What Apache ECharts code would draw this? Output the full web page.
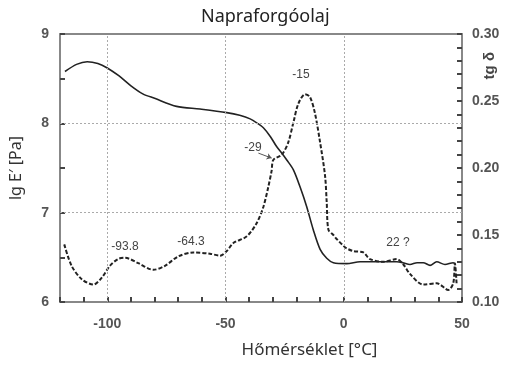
<!DOCTYPE html>
<html>
<head>
<meta charset="utf-8">
<script src="https://cdn.jsdelivr.net/npm/echarts@6/dist/echarts.min.js"></script>
<style>html,body{margin:0;padding:0;background:#fff}#c{width:508px;height:365px}</style>
</head>
<body>
<div id="c"></div>
<script>
// E' (lg E', left axis) vs temperature
const tempE = [-117.9,-113,-108.5,-104,-100,-95,-90,-85,-80,-70.7,-60.8,-49.5,-44,-39.6,-36.5,-34,-31,-28.4,-26,-24.1,-21.3,-18.5,-15.7,-12.9,-10,-7.2,-4.4,1.2,6.9,14,22.4,25,28,31,33.6,36.5,39.3,42.8,46.3,47];
const lgE   = [8.58,8.66,8.69,8.67,8.62,8.53,8.42,8.33,8.28,8.19,8.16,8.12,8.09,8.05,8.00,7.95,7.85,7.74,7.66,7.59,7.48,7.29,7.07,6.81,6.59,6.49,6.44,6.43,6.45,6.45,6.45,6.44,6.42,6.44,6.44,6.41,6.45,6.42,6.44,6.42];
// tg delta (right axis) vs temperature
const tempD = [-118.2,-115.1,-110.8,-105.9,-102.4,-98.9,-95.5,-92.5,-86.9,-80.5,-75.6,-70,-63.6,-56.6,-52.3,-49.5,-46.7,-41,-36.8,-34,-31.9,-30.5,-29.8,-26.2,-23.5,-21.3,-19.2,-16.4,-14.3,-12.2,-10,-7.9,-7.2,-6.5,-4.4,-3,-0.2,1.2,4,8.3,11.1,16.7,22.4,25.2,28,33.6,39.3,44.2,46.3,47,47.7];
const tgD   = [0.143,0.127,0.117,0.113,0.118,0.127,0.132,0.133,0.129,0.124,0.127,0.134,0.137,0.136,0.1346,0.138,0.144,0.149,0.159,0.171,0.186,0.198,0.206,0.210,0.219,0.234,0.248,0.255,0.253,0.241,0.219,0.194,0.174,0.154,0.150,0.147,0.142,0.140,0.138,0.137,0.132,0.130,0.132,0.128,0.121,0.113,0.114,0.109,0.114,0.129,0.114];
// peak annotations: text, temperature, tg delta position
const annText = ['-93.8','-64.3','-15','-29','22 ?'];
const annTemp = [-92.5,-64.6,-18.1,-38.4,22.9];
const annTg   = [0.1416,0.1453,0.2695,0.2151,0.1443];
// arrow for -29
const arrowFrom = [-36.1,0.2111];
const arrowTo = [-30.5,0.2074];
// gridlines
const gridX = [-100,-50,0];
const gridY = [7,8];
const xLabels = [-100,-50,0,50];
const yLeftLabels = [6,7,8,9];
const yRightLabels = [0.10,0.15,0.20,0.25,0.30];

const chart = echarts.init(document.getElementById('c'));
const labelFont = () => ({color:'#555', fontSize:14, fontWeight:'bold', fontFamily:'Liberation Sans, Arial'});
const tick = () => ({show:true, inside:true, length:5, lineStyle:{color:'#444', width:2}});
const axisLine = () => ({show:true, onZero:false, lineStyle:{color:'#888', width:2}});
const hiddenSplit = () => ({show:true, lineStyle:{color:'rgba(0,0,0,0)', width:0}});
const option = {
  animation:false,
  title:{text:'Napraforgóolaj', left:196, top:3, textStyle:{fontFamily:'Noto Sans', fontWeight:'normal', fontSize:18, color:'#222'}},
  grid:{left:60, top:34, right:46, bottom:63},
  xAxis:[{type:'value', min:-120, max:50, interval:10,
    name:'Hőmérséklet [°C]', nameLocation:'middle', nameGap:40,
    nameTextStyle:{fontFamily:'Noto Sans', fontSize:17, color:'#333', padding:[0,0,0,97]},
    axisLine:axisLine(),
    axisTick:tick(),
    axisLabel:{...labelFont(), margin:15, formatter:v=> xLabels.includes(Math.round(v)) ? String(Math.round(v)) : ''},
    splitLine:hiddenSplit()},
    {type:'value', min:-120, max:50, interval:10, position:'top',
    axisLine:axisLine(), axisTick:{show:false}, axisLabel:{show:false}, splitLine:hiddenSplit()}],
  yAxis:[
    {type:'value', min:6, max:9, interval:0.5, position:'left',
     name:'lg E′ [Pa]', nameLocation:'middle', nameGap:36,
     nameTextStyle:{fontFamily:'Noto Sans', fontSize:16, color:'#333'},
     axisLine:axisLine(),
     axisTick:tick(),
     axisLabel:{...labelFont(), margin:11, formatter:v=> yLeftLabels.includes(v) ? String(v) : ''},
     splitLine:hiddenSplit()},
    {type:'value', min:0.10, max:0.30, interval:0.01, position:'right',
     axisLine:axisLine(),
     axisTick:tick(),
     axisLabel:{...labelFont(), margin:10, formatter:v=> yRightLabels.some(t=>Math.abs(t-v)<1e-6) ? v.toFixed(2) : ''},
     splitLine:hiddenSplit()}
  ],
  graphic:[{type:'text', left:482, top:52, rotation:Math.PI/2,
    style:{text:'tg δ', fontFamily:'Liberation Sans, Arial', fontWeight:'bold', fontSize:15, fill:'#444'}}],
  series:[
    {type:'line', xAxisIndex:0, yAxisIndex:0, data:tempE.map((t,i)=>[t,lgE[i]]), showSymbol:false, smooth:0.3,
     lineStyle:{color:'#222', width:1.6}, z:3,
     markLine:{silent:true, symbol:'none', label:{show:false}, animation:false,
       lineStyle:{color:'#aaa', type:[2,2], width:1},
       data:[...gridX.map(x=>({xAxis:x})), ...gridY.map(y=>({yAxis:y}))]}},
    {type:'line', xAxisIndex:0, yAxisIndex:1, data:tempD.map((t,i)=>[t,tgD[i]]), showSymbol:false, smooth:0.3,
     lineStyle:{color:'#222', width:2, type:[4,2]}, z:4,
     markPoint:{symbol:'circle', symbolSize:0, silent:true, animation:false,
       label:{show:true, position:'inside', color:'#444', fontSize:12, fontFamily:'Liberation Sans, Arial', formatter:p=>p.name},
       data:annText.map((s,i)=>({name:s, coord:[annTemp[i], annTg[i]]}))},
     markLine:{silent:true, symbol:['none','arrow'], symbolSize:5, label:{show:false}, animation:false,
       lineStyle:{color:'#555', type:'solid', width:1},
       data:[[{coord:arrowFrom},{coord:arrowTo}]]}}
  ]
};
chart.setOption(option);
</script>
</body>
</html>
